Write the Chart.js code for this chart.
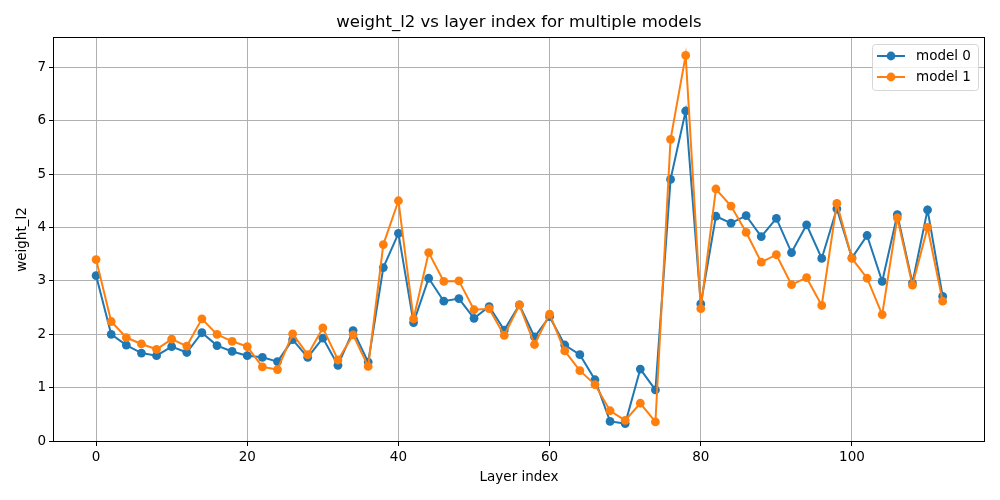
<!doctype html>
<html>
<head>
<title>weight_l2 vs layer index</title>
<script src="https://cdn.jsdelivr.net/npm/chart.js@4.4.1/dist/chart.umd.min.js"></script>
<style>
  body { margin: 0; background: #fff; }
  #wrap { width: 1000px; height: 500px; }
</style>
</head>
<body>
<div id="wrap"><canvas id="canvas" width="1000" height="500"></canvas></div>
<script>
// layer index 0..112 step 2
var layers = [0,2,4,6,8,10,12,14,16,18,20,22,24,26,28,30,32,34,36,38,40,42,44,46,48,50,52,54,56,58,
  60,62,64,66,68,70,72,74,76,78,80,82,84,86,88,90,92,94,96,98,100,102,104,106,108,110,112];

var model0 = [3.10,2.00,1.80,1.65,1.60,1.77,1.66,2.03,1.79,1.68,1.60,1.57,1.49,1.90,1.57,1.93,1.42,2.07,1.48,3.25,
  3.89,2.22,3.05,2.62,2.67,2.30,2.52,2.08,2.55,1.95,2.33,1.80,1.62,1.15,0.37,0.33,1.35,0.96,4.90,6.18,
  2.57,4.21,4.08,4.22,3.83,4.17,3.53,4.05,3.42,4.35,3.43,3.85,2.99,4.24,2.96,4.33,2.71];

var model1 = [3.40,2.24,1.94,1.82,1.72,1.91,1.78,2.29,2.00,1.87,1.77,1.39,1.34,2.01,1.62,2.12,1.52,1.99,1.40,3.68,
  4.50,2.29,3.53,2.99,3.00,2.46,2.48,1.98,2.55,1.81,2.38,1.69,1.32,1.06,0.57,0.39,0.71,0.36,5.65,7.22,
  2.48,4.72,4.40,3.91,3.35,3.49,2.93,3.06,2.54,4.45,3.42,3.05,2.37,4.18,2.92,4.00,2.62];

var xTicks = [0,20,40,60,80,100];
var yTicks = [0,1,2,3,4,5,6,7];
var seriesNames = ['model 0', 'model 1'];
var seriesColors = ['#1f77b4', '#ff7f0e'];

var FONT = '"DejaVu Sans", sans-serif';

function pts(ys) {
  return layers.map(function (x, i) { return {x: x, y: ys[i]}; });
}

// title, axis titles, frame and legend drawn on top
var decor = {
  id: 'decor',
  afterDraw: function (chart) {
    var ctx = chart.ctx, a = chart.chartArea;
    ctx.save();
    ctx.strokeStyle = '#000';
    ctx.lineWidth = 1;
    ctx.strokeRect(a.left + 0.5, a.top + 0.5, a.right - a.left - 1, a.bottom - a.top - 1);

    ctx.fillStyle = '#000';
    ctx.textAlign = 'center';
    ctx.textBaseline = 'middle';
    ctx.font = '16.5px ' + FONT;
    ctx.fillText('weight_l2 vs layer index for multiple models', (a.left + a.right) / 2, 23);
    ctx.font = '13.5px ' + FONT;
    ctx.fillText('Layer index', (a.left + a.right) / 2, 477);
    ctx.save();
    ctx.translate(22, (a.top + a.bottom) / 2);
    ctx.rotate(-Math.PI / 2);
    ctx.fillText('weight_l2', 0, 0);
    ctx.restore();

    // legend box, upper right
    var bx = 872, by = 44, bw = 106, bh = 46;
    ctx.fillStyle = 'rgba(255,255,255,0.8)';
    ctx.strokeStyle = '#d6d6d6';
    ctx.beginPath();
    ctx.roundRect(bx + 0.5, by + 0.5, bw, bh, 3);
    ctx.fill();
    ctx.stroke();
    for (var i = 0; i < seriesNames.length; i++) {
      var yy = by + 12 + i * 21;
      ctx.strokeStyle = seriesColors[i];
      ctx.lineWidth = 2;
      ctx.beginPath();
      ctx.moveTo(bx + 5, yy);
      ctx.lineTo(bx + 33, yy);
      ctx.stroke();
      ctx.fillStyle = seriesColors[i];
      ctx.beginPath();
      ctx.arc(bx + 19, yy, 4.4, 0, Math.PI * 2);
      ctx.fill();
      ctx.fillStyle = '#000';
      ctx.textAlign = 'left';
      ctx.font = '13.5px ' + FONT;
      ctx.fillText(seriesNames[i], bx + 44, yy);
    }
    ctx.restore();
  }
};

var config = {
  type: 'line',
  data: {
    datasets: [{
      label: seriesNames[0],
      data: pts(model0),
      borderColor: seriesColors[0],
      backgroundColor: seriesColors[0],
      pointBackgroundColor: seriesColors[0],
      borderWidth: 2,
      pointRadius: 4.4,
      pointBorderWidth: 0,
      order: 1
    }, {
      label: seriesNames[1],
      data: pts(model1),
      borderColor: seriesColors[1],
      backgroundColor: seriesColors[1],
      pointBackgroundColor: seriesColors[1],
      borderWidth: 2,
      pointRadius: 4.4,
      pointBorderWidth: 0,
      order: 0
    }]
  },
  options: {
    responsive: false,
    animation: false,
    devicePixelRatio: 1,
    layout: { padding: { top: 37, right: 15, left: 0, bottom: 0 } },
    plugins: {
      legend: { display: false },
      title: { display: false },
      tooltip: { enabled: false }
    },
    scales: {
      x: {
        type: 'linear',
        min: -5.7,
        max: 117.6,
        afterBuildTicks: function (axis) { axis.ticks = xTicks.map(function (v) { return {value: v}; }); },
        afterFit: function (axis) { axis.height = 58; },
        grid: { color: '#b0b0b0', lineWidth: 1, tickColor: '#000', tickLength: 4 },
        border: { display: false },
        ticks: { color: '#000', font: { family: FONT, size: 13.5 }, padding: 3, maxRotation: 0 }
      },
      y: {
        type: 'linear',
        min: -0.015,
        max: 7.565,
        afterBuildTicks: function (axis) { axis.ticks = yTicks.map(function (v) { return {value: v}; }); },
        afterFit: function (axis) { axis.width = 53; },
        grid: { color: '#b0b0b0', lineWidth: 1, tickColor: '#000', tickLength: 4 },
        border: { display: false },
        ticks: { color: '#000', font: { family: FONT, size: 13.5 }, padding: 3 }
      }
    }
  },
  plugins: [decor]
};

window.myChart = new Chart(document.getElementById('canvas'), config);
</script>
</body>
</html>
